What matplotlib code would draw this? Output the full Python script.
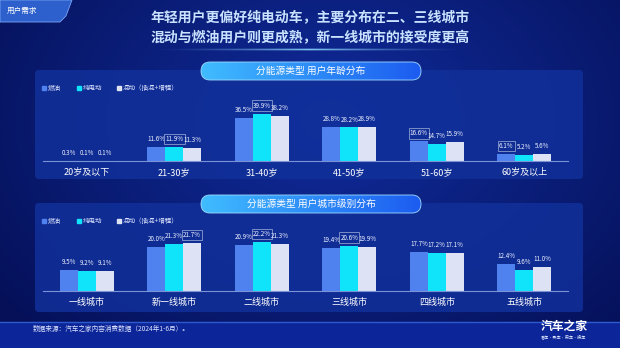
import matplotlib
matplotlib.use("Agg")
import matplotlib.pyplot as plt
import numpy as np
from matplotlib.patches import FancyBboxPatch, Polygon, Rectangle

plt.rcParams['font.family'] = ['Noto Sans CJK SC', 'DejaVu Sans']

# data
series = ['燃油', '纯电动', '混动（插混+增程）']
age_groups = ['20岁及以下', '21-30岁', '31-40岁', '41-50岁', '51-60岁', '60岁及以上']
age_fuel = [0.3, 11.6, 36.5, 28.8, 16.6, 6.1]
age_ev = [0.1, 11.9, 39.9, 28.2, 14.7, 5.2]
age_hybrid = [0.1, 11.3, 38.2, 28.9, 15.9, 5.6]
age_boxed = [None, (1, 1), (2, 1), None, (4, 0), (5, 0)]

city_groups = ['一线城市', '新一线城市', '二线城市', '三线城市', '四线城市', '五线城市']
city_fuel = [9.5, 20.0, 20.9, 19.4, 17.7, 12.4]
city_ev = [9.2, 21.3, 22.2, 20.6, 17.2, 9.6]
city_hybrid = [9.1, 21.7, 21.3, 19.9, 17.1, 11.0]
city_boxed = [None, (1, 2), (2, 1), (3, 1), None, None]

colors = ['#4f82ef', '#10e4fb', '#dde3f4']
W, H = 620, 348

fig = plt.figure(figsize=(W / 100, H / 100), dpi=100)

# background canvas in pixel coords
bg = fig.add_axes([0, 0, 1, 1])
bg.set_xlim(0, W)
bg.set_ylim(H, 0)
bg.axis('off')
yy, xx = np.mgrid[0:H, 0:W]
r = np.sqrt(((xx - 330) / 420) ** 2 + ((yy - 120) / 300) ** 2)
c0 = np.array([0x10, 0x2c, 0x9c]) / 255
c1 = np.array([0x05, 0x10, 0x58]) / 255
t = np.clip(r, 0, 1)[..., None]
bg.imshow(c0 * (1 - t) + c1 * t, extent=[0, W, H, 0], aspect='auto', zorder=0)

# footer strip
bg.add_patch(Rectangle((0, 322), W, 26, color='#0c2598', zorder=1))
bg.plot([0, W], [322, 322], color='#2e5ad0', lw=1, zorder=2)
bg.text(33, 329, '数据来源：汽车之家内容消费数据（2024年1-6月）。', color='#dce4ff',
        fontsize=4.8, va='center', ha='left', zorder=3)
bg.text(564, 326, '汽车之家', color='white', fontsize=8.5, fontweight='bold',
        va='center', ha='center', zorder=3)
bg.text(564, 337, '看车·买车·用车·换车', color='#dce4ff', fontsize=3,
        va='center', ha='center', zorder=3)

# top-left tab
bg.add_patch(Polygon([(0, 0), (72, 0), (66, 16), (60, 22), (0, 22)], closed=True,
                     facecolor='#2d60cc', edgecolor='#7aa6f4', lw=0.6, zorder=2))
bg.text(7, 11, '用户需求', color='white', fontsize=5.5, va='center', ha='left', zorder=3)

# title
bg.text(310, 17, '年轻用户更偏好纯电动车，主要分布在二、三线城市', color='#c8e2ff',
        fontsize=10, fontweight='bold', ha='center', va='center', zorder=3)
bg.text(310, 38, '混动与燃油用户则更成熟，新一线城市的接受度更高', color='#c8e2ff',
        fontsize=10, fontweight='bold', ha='center', va='center', zorder=3)
glow = np.zeros((3, 200, 4))
glow[..., :3] = np.array([0.55, 0.85, 1.0])
glow[..., 3] = (1 - np.abs(np.linspace(-1, 1, 200))) ** 1.5 * np.array([0.3, 0.9, 0.3])[:, None]
bg.imshow(glow, extent=[150, 470, 51, 48], aspect='auto', zorder=3)
bg.set_xlim(0, W)
bg.set_ylim(H, 0)


def panel(y0, y1, title):
    bg.add_patch(FancyBboxPatch((35, y0), 548, y1 - y0, boxstyle='round,pad=0,rounding_size=4',
                                facecolor='#11309a', edgecolor='none', alpha=0.85, zorder=1))
    # pill header
    px0, px1, py0, py1 = 201, 421, y0 - 8, y0 + 10
    pill = FancyBboxPatch((px0, py0), px1 - px0, py1 - py0,
                          boxstyle='round,pad=0,rounding_size=9',
                          facecolor='none', edgecolor='#9fdcff', lw=0.6, zorder=4)
    bg.add_patch(pill)
    grad = np.zeros((1, 100, 3))
    a = np.linspace(0, 1, 100)[:, None]
    grad[0] = np.array([0x40, 0xbc, 0xff]) / 255 * (1 - a) + np.array([0x1c, 0x5c, 0xf0]) / 255 * a
    im = bg.imshow(grad, extent=[px0, px1, py1, py0], aspect='auto', zorder=3)
    im.set_clip_path(pill)
    bg.text((px0 + px1) / 2, (py0 + py1) / 2, title, color='white', fontsize=7,
            ha='center', va='center', zorder=5)
    # legend
    ly = y0 + 18
    for x, name, col in zip([42, 77, 117], series, colors):
        bg.add_patch(Rectangle((x, ly - 2), 4, 4, color=col, zorder=3))
        bg.text(x + 6, ly, name, color='#dfe6ff', fontsize=4.7, va='center', ha='left', zorder=3)


panel(70, 179, '分能源类型 用户年龄分布')
panel(203, 312, '分能源类型 用户城市级别分布')


def bars(rect_px, groups, vals, boxed, ymax):
    x0, x1, ytop, ybot = rect_px
    ax = fig.add_axes([x0 / W, 1 - ybot / H, (x1 - x0) / W, (ybot - ytop) / H])
    ax.patch.set_alpha(0)
    x = np.arange(len(groups))
    bw = 0.205
    for i, (v, col) in enumerate(zip(vals, colors)):
        pos = x + (i - 1) * bw
        ax.bar(pos, v, width=bw, color=col, zorder=2)
        for j, (p, val) in enumerate(zip(pos, v)):
            kw = {}
            if boxed[j] is not None and boxed[j][1] == i:
                kw['bbox'] = dict(boxstyle='square,pad=0.2', facecolor='none',
                                  edgecolor='#8a9ccc', lw=0.6)
            ax.text(p, val + ymax * 0.06, f'{val:.1f}%', color='#eef2ff', fontsize=4.5,
                    ha='center', va='bottom', **kw)
    ax.set_xlim(-0.5, len(groups) - 0.5)
    ax.set_ylim(0, ymax)
    ax.set_xticks(x)
    ax.set_xticklabels(groups, color='white', fontsize=6.5)
    ax.tick_params(axis='x', length=0, pad=5)
    ax.set_yticks([])
    for s in ['top', 'right', 'left']:
        ax.spines[s].set_visible(False)
    ax.spines['bottom'].set_color('#7b93d6')
    ax.spines['bottom'].set_linewidth(0.8)
    return ax


bars((43, 568, 95, 161), age_groups, [age_fuel, age_ev, age_hybrid], age_boxed, 55.5)
bars((43, 568, 225, 291), city_groups, [city_fuel, city_ev, city_hybrid], city_boxed, 29.9)

fig.savefig('out.png', dpi=100)
